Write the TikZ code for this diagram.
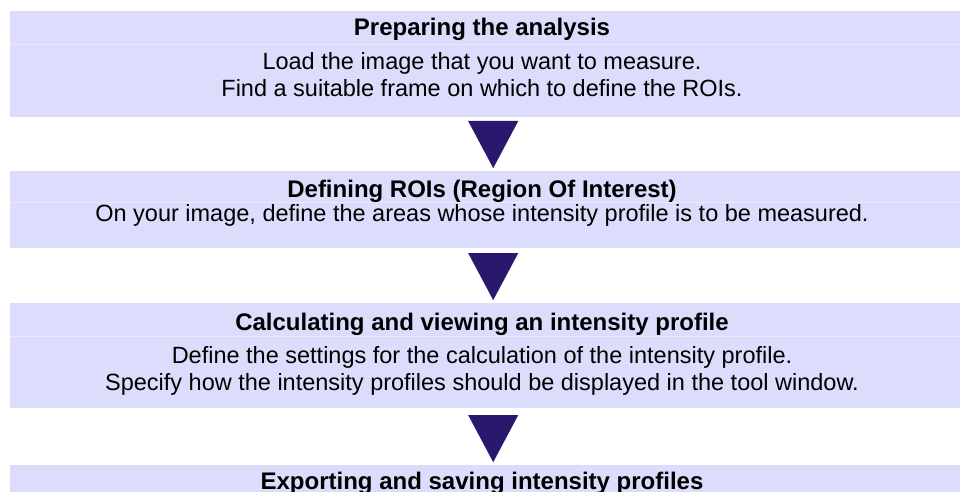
\documentclass[tikz,border=0pt]{standalone}
\usepackage{fontspec}
\setmainfont{Liberation Sans}
\usetikzlibrary{arrows.meta, positioning}
\definecolor{bandfill}{RGB}{220,220,252}
\definecolor{bandrule}{RGB}{233,233,253}
\definecolor{tipblue}{RGB}{42,24,110}

\begin{document}
\begin{tikzpicture}[x=1pt, y=-1pt,
      band/.style={
        fill=bandfill,
        inner sep=0pt,
        minimum width=952pt,
        anchor=north west
      },
      heading/.style={anchor=base, inner sep=0pt, font=\fontsize{24}{28}\selectfont\bfseries},
      detail/.style={anchor=base, inner sep=0pt, align=center, font=\fontsize{23.5}{26.5}\selectfont},
      divider/.style={draw=bandrule, line width=0.8pt},
      flow/.style={tipblue, line width=0.1pt, shorten <=8pt, shorten >=3pt,
        -{Triangle[length=47pt, width=50pt]}}
    ]
    \path[use as bounding box, clip] (0,0) rectangle (960,492);

    % the four steps
    \node[band, minimum height=106pt] (prep) at (10,11) {};
    \node[band, minimum height=77pt] (rois) at (10,171) {};
    \node[band, minimum height=105pt] (calc) at (10,303) {};
    \node[band, minimum height=40pt] (export) at (10,465) {};

    \draw[divider] (prep.west |- 0,44) -- (prep.east |- 0,44);
    \draw[divider] (rois.west |- 0,202) -- (rois.east |- 0,202);
    \draw[divider] (calc.west |- 0,336) -- (calc.east |- 0,336);

    % texts (base = last line)
    \node[heading] (prephead) at (482,36) {Preparing the analysis};
    \node[detail] (prepbody) at (482,96.5) {%
      Load the image that you want to measure.\\
      Find a suitable frame on which to define the ROIs.};
    \node[heading] (roishead) at (482,197) {Defining ROIs (Region Of Interest)};
    \node[detail] (roisbody) at (482,221) {%
      On your image, define the areas whose intensity profile is to be measured.};
    \node[heading] (calchead) at (482,330) {Calculating and viewing an intensity profile};
    \node[detail] (calcbody) at (482,390) {%
      Define the settings for the calculation of the intensity profile.\\
      Specify how the intensity profiles should be displayed in the tool window.};
    \node[heading] (exporthead) at (482,489) {Exporting and saving intensity profiles};

    \draw[flow] ([xshift=7pt]prep.south) -- ([xshift=7pt]rois.north);
    \draw[flow] ([xshift=7pt]rois.south) -- ([xshift=7pt]calc.north);
    \draw[flow] ([xshift=7pt]calc.south) -- ([xshift=7pt]export.north);
  \end{tikzpicture}
\end{document}
